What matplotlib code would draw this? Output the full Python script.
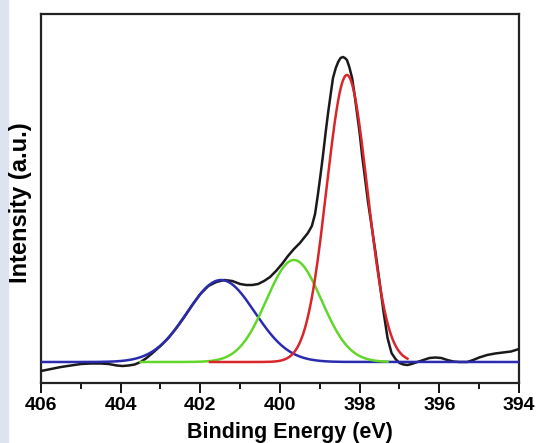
import matplotlib
matplotlib.use("Agg")
import matplotlib.pyplot as plt
import matplotlib.patches as patches
import numpy as np

# measured spectrum (binding energy in eV, intensity in a.u. above the fit baseline)
spec_be = [406.00, 405.75, 405.50, 405.25, 405.00, 404.75, 404.50, 404.30, 404.10,
           403.95, 403.80, 403.65, 403.50, 403.35, 403.20, 403.00, 402.80, 402.60,
           402.40, 402.20, 402.00, 401.80, 401.60, 401.40, 401.20, 401.00, 400.85,
           400.70, 400.55, 400.40, 400.25, 400.10, 399.95, 399.80, 399.65, 399.50,
           399.40, 399.30, 399.20, 399.12, 399.05, 398.98, 398.92, 398.85, 398.79,
           398.72, 398.67, 398.60, 398.54, 398.48, 398.42, 398.37, 398.32, 398.26,
           398.19, 398.13, 398.07, 398.00, 397.94, 397.86, 397.79, 397.70, 397.60,
           397.50, 397.40, 397.30, 397.20, 397.10, 397.00, 396.90, 396.80, 396.70,
           396.55, 396.40, 396.25, 396.10, 395.95, 395.80, 395.65, 395.50, 395.30,
           395.15, 395.00, 394.80, 394.60, 394.40, 394.20, 394.00]
spec_int = [-9, -7, -5, -3.5, -2, -1.5, -1.5, -2, -3.5,
            -4, -3.5, -2.5, 0, 4, 9, 16, 24, 34,
            45, 57, 68, 76, 80, 82, 81, 78, 77,
            77, 78, 81, 85, 91, 98, 106, 113, 119,
            124, 129, 136, 148, 167, 188, 207, 231, 250,
            270, 284, 294, 300, 304, 305, 304, 302, 295,
            284, 268, 250, 229, 207, 182, 160, 136, 109,
            80, 50, 24, 9, 3, -1, -2.5, -3, -2,
            0, 2, 4, 4.5, 4, 2, 0.5, 0, 0,
            2, 4.5, 7, 8.5, 9.5, 10.5, 13]

# fitted components: center (eV), height, FWHM (eV), drawn range
comp_center = [401.48, 399.65, 398.32]
comp_height = [82, 102, 287]
comp_fwhm = [2.00, 1.63, 1.20]
comp_start = [406.0, 403.5, 401.76]
comp_end = [394.0, 397.3, 396.8]
comp_color = ["#2b2bb0", "#62d62a", "#d8262b"]

plt.rcParams['font.family'] = ['Liberation Sans', 'DejaVu Sans']
plt.rcParams['font.weight'] = 'bold'

fig = plt.figure(figsize=(5.36, 4.43), dpi=100)
fig.add_artist(patches.Rectangle((0, 0), 8 / 536, 1, transform=fig.transFigure,
                                 color="#dce3f1", zorder=0))
ax = fig.add_axes([41 / 536, 1 - 383 / 443, 478 / 536, 369 / 443])

ax.plot(spec_be, spec_int, color="#1a1a1a", lw=1.8, zorder=3)

for c, h, w, a, b, col in zip(comp_center, comp_height, comp_fwhm,
                              comp_start, comp_end, comp_color):
    sig = w / 2.3548
    xs = np.linspace(b, a, 400)
    ax.plot(xs, h * np.exp(-(xs - c) ** 2 / (2 * sig ** 2)), color=col, lw=1.8, zorder=4)

ax.set_xlim(406, 394)
ax.set_ylim(-21, 348)
ax.set_xticks(np.arange(394, 407, 2))
ax.set_xticks(np.arange(395, 406, 2), minor=True)
ax.tick_params(axis='x', which='major', direction='out', length=7, width=1.3,
               labelsize=14, pad=3)
ax.tick_params(axis='x', which='minor', direction='out', length=4, width=1.3)
ax.set_yticks([])
for s in ax.spines.values():
    s.set_linewidth(1.6)
    s.set_color("#222222")

ax.set_xlabel("Binding Energy (eV)", fontsize=15.5, fontweight='bold')
ax.set_ylabel("Intensity (a.u.)", fontsize=17, fontweight='bold')
ax.xaxis.set_label_coords(0.52, -0.105)
ax.yaxis.set_label_coords(-0.018, 0.49)

fig.savefig("out.png", dpi=100)
